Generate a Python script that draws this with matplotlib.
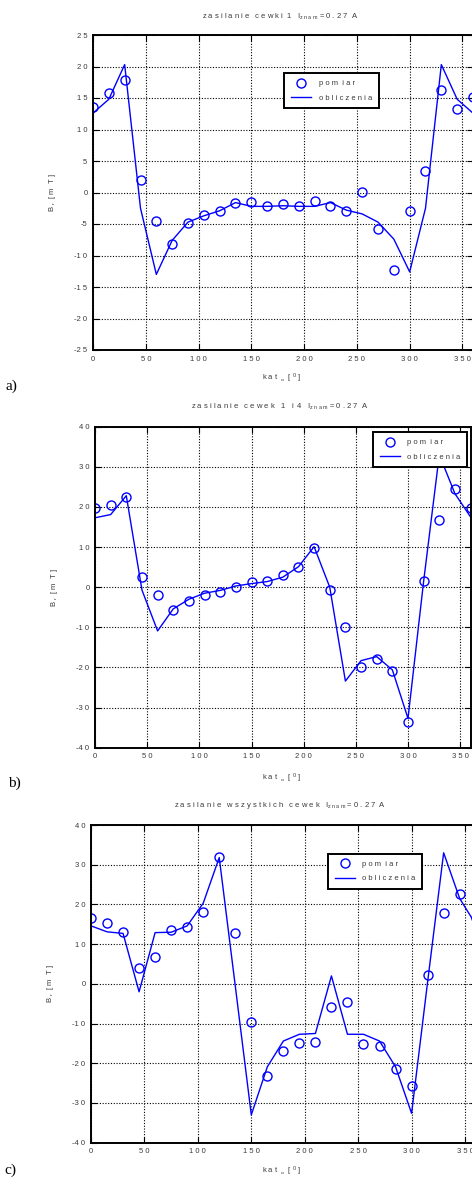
import numpy as np
import matplotlib
matplotlib.use("Agg")
import matplotlib.pyplot as plt

plt.rcParams["font.family"] = ["Liberation Sans Narrow", "Liberation Sans", "DejaVu Sans"]
plt.rcParams["mathtext.fontset"] = "custom"
plt.rcParams["mathtext.rm"] = "Liberation Sans"
plt.rcParams["mathtext.it"] = "Liberation Serif"

# katy pomiaru [deg]
kat = [0, 15, 30, 45, 60, 75, 90, 105, 120, 135, 150, 165, 180,
       195, 210, 225, 240, 255, 270, 285, 300, 315, 330, 345, 360]

# a) zasilanie cewki 1
pomiar_a = [13.5, 15.8, 17.9, 2.0, -4.6, -8.2, -4.9, -3.5, -3.0, -1.7, -1.5, -2.1, -1.8,
            -2.1, -1.3, -2.1, -3.0, 0.1, -5.8, -12.3, -3.0, 3.4, 16.2, 13.3, 15.2]
oblicz_a = [12.6, 14.8, 20.3, -2.5, -13.0, -7.6, -4.7, -3.7, -2.9, -1.6, -2.2, -2.2, -2.1,
            -2.2, -2.2, -1.6, -2.8, -3.4, -4.7, -7.4, -12.6, -2.5, 20.3, 14.8, 12.6]

# b) zasilanie cewek 1 i 4
pomiar_b = [19.8, 20.4, 22.6, 2.5, -1.9, -5.8, -3.4, -1.9, -1.1, 0.0, 1.3, 1.5, 3.0,
            5.1, 9.8, -0.8, -9.8, -20.0, -17.8, -21.0, -33.7, 1.5, 16.8, 24.5, 19.7]
oblicz_b = [17.3, 18.1, 22.8, -0.7, -10.9, -5.4, -3.0, -1.5, -0.8, 0.3, 0.9, 1.4, 2.5,
            5.1, 10.1, 0.0, -23.4, -18.3, -17.3, -20.6, -32.7, 1.5, 33.0, 23.3, 17.5]

# c) zasilanie wszystkich cewek
pomiar_c = [16.7, 15.4, 13.0, 3.9, 6.7, 13.5, 14.3, 18.2, 32.0, 12.8, -9.7, -23.2, -16.9,
            -14.8, -14.6, -5.8, -4.5, -15.2, -15.7, -21.4, -25.7, 2.2, 17.9, 22.6, 16.7]
oblicz_c = [14.6, 13.1, 12.7, -2.0, 12.9, 13.0, 14.6, 20.3, 31.8, -0.5, -33.0, -20.9, -14.4,
            -12.7, -12.5, 2.0, -12.7, -12.7, -14.4, -20.9, -32.6, 0.5, 33.0, 21.5, 15.0]

xticks = [0, 50, 100, 150, 200, 250, 300, 350]
yticks_a = [-25, -20, -15, -10, -5, 0, 5, 10, 15, 20, 25]
yticks_bc = [-40, -30, -20, -10, 0, 10, 20, 30, 40]

tytul_a = r"z a s i l a n i e   c e w k i  1   I$_{\mathrm{z\ n\ a\ m}}$ = 0 . 2 7  A"
tytul_b = r"z a s i l a n i e   c e w e k   1   i  4   I$_{\mathrm{z\ n\ a\ m}}$ = 0 . 2 7  A"
tytul_c = r"z a s i l a n i e   w s z y s t k i c h   c e w e k   I$_{\mathrm{z\ n\ a\ m}}$ = 0 . 2 7  A"

TXT = "#3a3a3a"
BLUE = "#0000ff"
W, H = 472.0, 1192.0


def spaced(v):
    s = str(v)
    if s.startswith("-"):
        return "-" + " ".join(s[1:])
    return " ".join(s)


def panel(rect, pomiar, oblicz, yticks, tytul, leg_xy, litera, lit_xy, title_y, xlab_y, ylab_x):
    x0, top, x360, bottom = rect
    ax = fig.add_axes([x0 / W, 1 - bottom / H, (x360 - x0) / W, (bottom - top) / H])
    ax.plot(kat, pomiar, "o", mfc="none", mec=BLUE, ms=6.5, mew=1.0, label="p o m  i a r")
    ax.plot(kat, oblicz, "-", color=BLUE, lw=1.0, label="o b l i c z e n i a")
    ax.set_xlim(0, 360)
    ax.set_ylim(yticks[0], yticks[-1])
    ax.set_xticks(xticks)
    ax.set_xticklabels([spaced(v) for v in xticks])
    ax.set_yticks(yticks)
    ax.set_yticklabels([spaced(v) for v in yticks])
    ax.tick_params(direction="in", top=True, right=True, length=4, width=0.8,
                   labelsize=5.5, labelcolor=TXT, pad=4)
    ax.grid(True, linestyle=(0, (1, 1.5)), color="black", linewidth=0.8)
    for sp in ax.spines.values():
        sp.set_linewidth(1.4)
    leg = ax.legend(loc="upper left", bbox_to_anchor=leg_xy, fontsize=5.5, frameon=True,
                    fancybox=False, edgecolor="black", framealpha=1, borderpad=0.9,
                    handlelength=2.6, handletextpad=1.0, labelspacing=0.9, borderaxespad=0)
    leg.get_frame().set_linewidth(1.4)
    for t in leg.get_texts():
        t.set_color(TXT)
    cx = 280 / W
    fig.text(cx, 1 - title_y / H, tytul, ha="center", va="baseline", fontsize=5.5, color=TXT)
    fig.text(282 / W, 1 - xlab_y / H, r"k a t  $_{\alpha}$  [ $^{0}$ ]", ha="center",
             va="baseline", fontsize=5.5, color=TXT)
    fig.text(ylab_x / W, 1 - (top + bottom) / 2 / H, r"B $_{r}$  [ m  T ]", rotation=90,
             ha="center", va="center", fontsize=5.5, color=TXT)
    fig.text(lit_xy[0] / W, 1 - lit_xy[1] / H, litera, family="Liberation Serif",
             fontsize=11, ha="left", va="center", color="black")
    return ax


fig = plt.figure(figsize=(W / 100, H / 100), dpi=100)

panel((93, 35, 473, 350), pomiar_a, oblicz_a, yticks_a, tytul_a, (0.503, 0.879),
      "a)", (6, 386), 18.5, 380.7, 53)
panel((95, 426.7, 470.6, 747.7), pomiar_b, oblicz_b, yticks_bc, tytul_b, (0.740, 0.983),
      "b)", (8, 783), 409, 780.7, 55)
panel((91, 825, 475.7, 1142.7), pomiar_c, oblicz_c, yticks_bc, tytul_c, (0.616, 0.909),
      "c)", (4, 1170), 806.7, 1174, 50)

fig.savefig("out.png", dpi=100)
